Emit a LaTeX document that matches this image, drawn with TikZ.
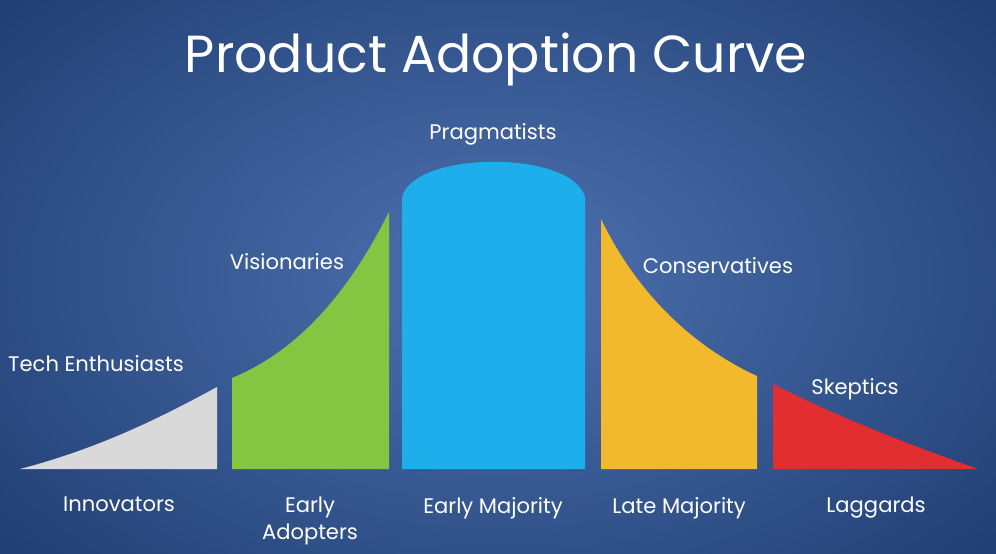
\documentclass[tikz,border=0pt]{standalone}
\usepackage{fontspec}
\setmainfont{Poppins}
\usepackage{tikz}
\definecolor{bgin}{RGB}{78,114,176}
\definecolor{bgout}{RGB}{26,56,108}
\definecolor{grayseg}{RGB}{217,217,217}
\definecolor{greenseg}{RGB}{134,197,66}
\definecolor{blueseg}{RGB}{31,174,236}
\definecolor{yellowseg}{RGB}{242,185,44}
\definecolor{redseg}{RGB}{226,46,48}
\newcommand{\segment}[2]{\fill[#1] #2 -- cycle;}

\begin{document}
\begin{tikzpicture}[x=0.03cm,y=-0.03cm,
  lbl/.style={text=white,font=\fontsize{18}{23}\selectfont,inner sep=0pt},
  grp/.style={lbl,align=center}]
  \useasboundingbox (0,0) rectangle (996,554);
  \shade[inner color=bgin,outer color=bgout] (-250,-200) rectangle (1246,754);
  \node[text=white,font=\fontsize{44.5}{48}\selectfont,inner sep=0pt] (title) at (496,59) {Product Adoption Curve};
  % the five segments under the curve
  \segment{grayseg}{(20,469) .. controls (100,448) and (160,418) .. (217,387) -- (217,469)}
  \segment{greenseg}{(232,469) -- (232,378) .. controls (300,350) and (350,290) .. (389,212) -- (389,469)}
  \segment{blueseg}{(402,469) -- (402,197) .. controls (415,150) and (572,150) .. (585,197) -- (585,469)}
  \segment{yellowseg}{(601,469) -- (601,219) .. controls (640,300) and (700,350) .. (757,376) -- (757,469)}
  \segment{redseg}{(773,469) -- (773,384) .. controls (840,418) and (910,445) .. (978,469)}
  % upper labels
  \node[lbl] (tech) at (96,364) {Tech Enthusiasts};
  \node[lbl] (vis) at (287,262) {Visionaries};
  \node[lbl] (prag) at (493,134) {Pragmatists};
  \node[lbl] (cons) at (718,266) {Conservatives};
  \node[lbl] (skep) at (855,389) {Skeptics};
  % group names
  \node[grp,anchor=north] (inno) at (119,497) {Innovators};
  \node[grp,anchor=north] (early) at (310,497) {Early\\Adopters};
  \node[grp,anchor=north] (emaj) at (493,497) {Early Majority};
  \node[grp,anchor=north] (lmaj) at (679,497) {Late Majority};
  \node[grp,anchor=north] (lagg) at (876,497) {Laggards};
\end{tikzpicture}
\end{document}
